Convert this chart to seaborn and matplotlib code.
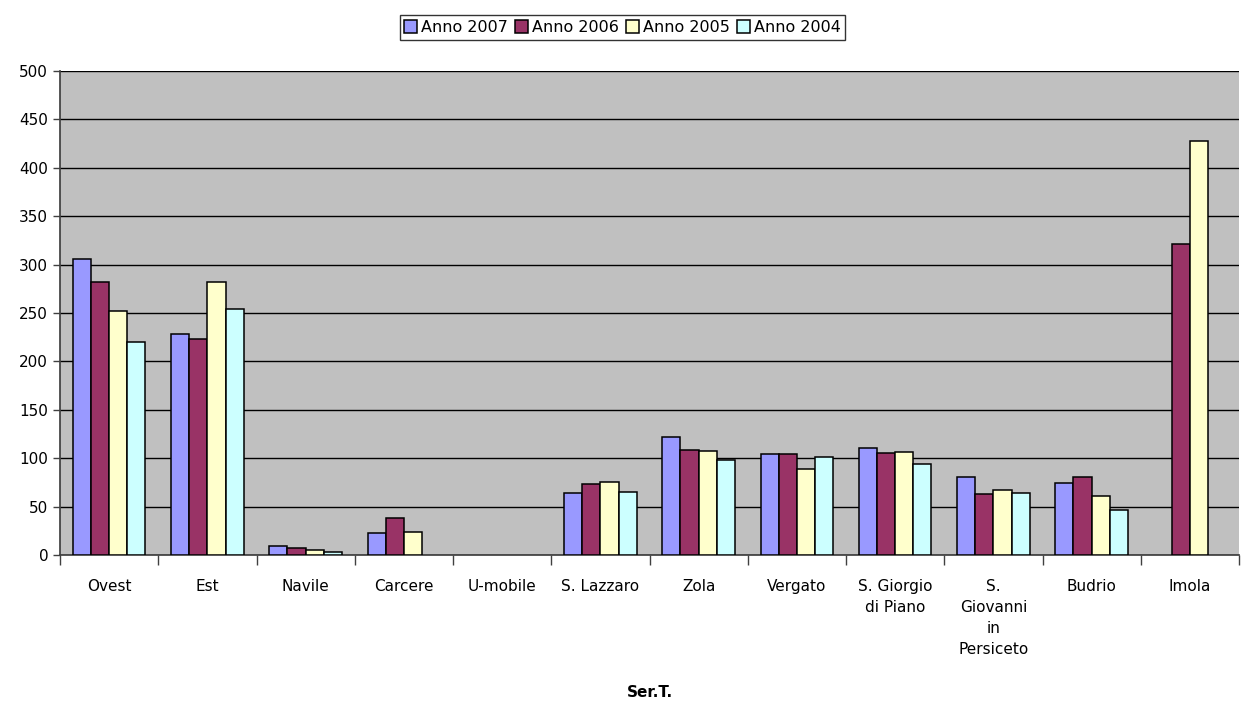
import numpy as np
import pandas as pd
import matplotlib
matplotlib.use("Agg")
import matplotlib.pyplot as plt
import seaborn as sns
from matplotlib.ticker import FixedLocator

categories = ["Ovest", "Est", "Navile", "Carcere", "U-mobile", "S. Lazzaro", "Zola",
              "Vergato", "S. Giorgio\ndi Piano", "S.\nGiovanni\nin\nPersiceto", "Budrio", "Imola"]
series = ["Anno 2007", "Anno 2006", "Anno 2005", "Anno 2004"]
nan = np.nan
anno_2007 = [306, 228, 9, 23, nan, 64, 122, 104, 111, 81, 74, nan]
anno_2006 = [282, 223, 7, 38, nan, 73, 108, 104, 105, 63, 81, 321]
anno_2005 = [252, 282, 5, 24, nan, 75, 107, 89, 106, 67, 61, 428]
anno_2004 = [220, 254, 3.5, nan, nan, 65, 98, 101, 94, 64, 46, nan]
colors = ["#9999FF", "#993366", "#FFFFCC", "#CCFFFF"]

rows = []
for s, vals in zip(series, [anno_2007, anno_2006, anno_2005, anno_2004]):
    for c, v in zip(categories, vals):
        rows.append({"cat": c, "serie": s, "val": v})
df = pd.DataFrame(rows)

sns.set_theme(style="white")
plt.rcParams["font.family"] = ["DejaVu Sans"]
plt.rcParams["text.color"] = "black"
plt.rcParams["xtick.color"] = "black"
plt.rcParams["ytick.color"] = "black"
plt.rcParams["axes.labelcolor"] = "black"

fig = plt.figure(figsize=(12.42, 7.02), dpi=100)
ax = fig.add_axes([60/1242, 1 - 555/702, 1179/1242, 484/702])
ax.set_facecolor("#C0C0C0")

sns.barplot(data=df, x="cat", y="val", hue="serie", order=categories, hue_order=series,
            palette=colors, width=0.74, gap=0, edgecolor="black", linewidth=1.1,
            saturation=1, errorbar=None, ax=ax, zorder=3)

ax.set_xlim(-0.5, len(categories) - 0.5)
ax.set_ylim(0, 500)
ax.set_yticks(np.arange(0, 501, 50))
ax.yaxis.grid(True, color="black", linewidth=1)
ax.set_axisbelow(True)
ax.tick_params(axis="y", labelsize=11, length=5, left=True, color="#404040", width=1,
               labelcolor="black")
ax.tick_params(axis="x", labelsize=11, length=0, pad=17.5, labelcolor="black")
ax.xaxis.set_minor_locator(FixedLocator(np.arange(-0.5, len(categories), 1)))
ax.tick_params(axis="x", which="minor", bottom=True, length=7, color="#404040", width=1)
for side in ["top", "right"]:
    ax.spines[side].set_visible(False)
ax.spines["left"].set_color("#404040")
ax.spines["bottom"].set_color("#404040")
for lab in ax.get_xticklabels():
    lab.set_verticalalignment("top")
    lab.set_linespacing(1.5)
ax.set_ylabel("")
ax.set_xlabel("Ser.T.", fontsize=11, fontweight="bold", labelpad=20, color="black")

leg = ax.legend(loc="lower center", bbox_to_anchor=(0.477, 1.048), ncol=4, frameon=True,
                fontsize=11.5, handlelength=0.8, handleheight=0.8, handletextpad=0.25,
                columnspacing=0.45, borderpad=0.3, fancybox=False, title=None)
leg.get_frame().set_edgecolor("black")
leg.get_frame().set_linewidth(1)
for t in leg.get_texts():
    t.set_color("black")

fig.savefig("out.png", dpi=100, facecolor="white")
